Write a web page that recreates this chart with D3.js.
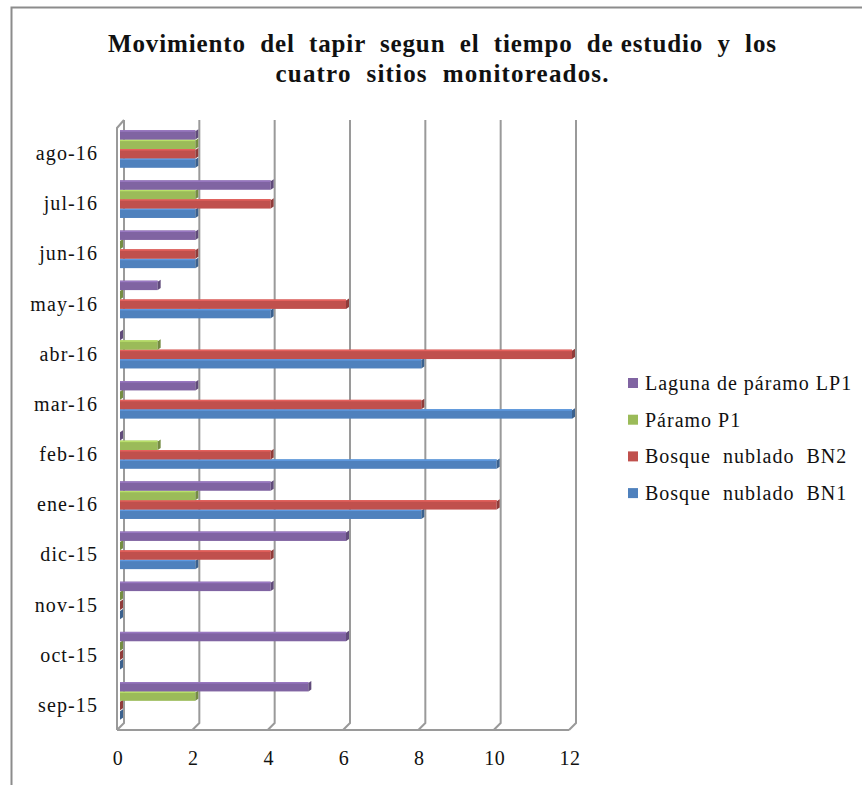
<!DOCTYPE html>
<html>
<head>
<meta charset="utf-8">
<script src="https://cdn.jsdelivr.net/npm/d3@7/dist/d3.min.js"></script>
<style>
  html, body { margin: 0; padding: 0; background: #fff; }
  svg text { white-space: pre; font-family: "Liberation Serif", "DejaVu Serif", serif; fill: #111; }
</style>
</head>
<body>
<svg id="chart" width="862" height="785"></svg>
<script>
// Months, top to bottom as shown on the category axis
const months = ["ago-16","jul-16","jun-16","may-16","abr-16","mar-16","feb-16","ene-16","dic-15","nov-15","oct-15","sep-15"];

// Series, listed in legend order (top bar of each group first)
const seriesNames = ["Laguna de páramo LP1", "Páramo P1", "Bosque  nublado  BN2", "Bosque  nublado  BN1"];
const seriesColors = ["#8064A2", "#9BBB59", "#C0504D", "#4F81BD"];

// Records per month, one array per series, in the same order as `months`
const lagunaLP1 = [2, 4, 2, 1, 0, 2, 0, 4, 6, 4, 6, 5];
const paramoP1  = [2, 2, 0, 0, 1, 0, 1, 2, 0, 0, 0, 2];
const bosqueBN2 = [2, 4, 2, 6, 12, 8, 4, 10, 4, 0, 0, 0];
const bosqueBN1 = [2, 2, 2, 4, 8, 12, 10, 8, 2, 0, 0, 0];
const seriesValues = [lagunaLP1, paramoP1, bosqueBN2, bosqueBN1];

const xTicks = [0, 2, 4, 6, 8, 10, 12];
const titleLines = ["Movimiento  del  tapir  segun  el  tiempo  de estudio  y  los", "cuatro  sitios  monitoreados."];
const titleWidths = [668, 333];

const svg = d3.select("#chart");

// outer chart frame (top and left edges fall inside the window)
svg.append("path")
  .attr("d", "M11.5,785 L11.5,7.5 L862,7.5")
  .attr("fill", "none").attr("stroke", "#8c8c8c").attr("stroke-width", 2);

// title
svg.append("g").selectAll("text").data(titleLines).join("text")
  .attr("x", 442).attr("y", (d, i) => 52 + i * 30)
  .attr("text-anchor", "middle")
  .attr("textLength", (d, i) => titleWidths[i])
  .attr("lengthAdjust", "spacing")
  .style("font-size", "25px").style("font-weight", "bold")
  .text(d => d);

// 3D geometry: back wall plane, front plane, and bars in the middle
const depth = 7;
const xBack = d3.scaleLinear().domain([0, 12]).range([124, 576]);
const xFront = v => xBack(v) - depth;
const xBar = v => xBack(v) - 4;
const backTop = 120, backBottom = 723;
const frontTop = backTop + depth + 1, frontBottom = backBottom + depth;

const y = d3.scaleBand().domain(months).range([frontTop, frontBottom]);
const barH = 9.4;
const groupOffset = 2.2;

const grid = svg.append("g").attr("fill", "none").attr("stroke", "#9a9a9a").attr("stroke-width", 2);

// back-wall vertical gridlines with floor diagonals
xTicks.forEach(t => {
  grid.append("path").attr("d",
    `M${xBack(t)},${backTop} L${xBack(t)},${backBottom} L${xFront(t)},${frontBottom}`);
});
// floor front edge
grid.append("line")
  .attr("x1", xFront(0)).attr("x2", xFront(12))
  .attr("y1", frontBottom).attr("y2", frontBottom);
// left wall front edge and top
grid.append("path").attr("d",
  `M${xFront(0)},${frontBottom} L${xFront(0)},${frontTop} L${xBack(0)},${backTop}`);

// bars
const bars = svg.append("g");
months.forEach((m, mi) => {
  // lower bars first so upper bars sit on top of them
  for (let s = seriesValues.length - 1; s >= 0; s--) {
    const v = seriesValues[s][mi];
    const col = d3.color(seriesColors[s]);
    const y0 = y(m) + groupOffset + s * barH;
    const x0 = xBar(0), x1 = xBar(v);
    const dd = 3;
    const g = bars.append("g");
    if (v > 0) {
      g.append("rect")
        .attr("x", x0).attr("y", y0).attr("width", x1 - x0).attr("height", barH)
        .attr("fill", col.formatHex());
      // top bevel
      g.append("rect")
        .attr("x", x0).attr("y", y0).attr("width", x1 - x0).attr("height", 1.5)
        .attr("fill", col.brighter(0.5).formatHex());
    }
    // right side face (visible even for a zero bar)
    g.append("path")
      .attr("d", `M${x1},${y0 + 1} L${x1 + dd},${y0 - 1} L${x1 + dd},${y0 + barH - 2} L${x1},${y0 + barH}Z`)
      .attr("fill", col.darker(0.8).formatHex());
  }
});

// category labels
svg.append("g").selectAll("text").data(months).join("text")
  .attr("x", 98).attr("y", d => y(d) + y.bandwidth() / 2 + 7)
  .attr("text-anchor", "end")
  .style("font-size", "20px").style("letter-spacing", "1.1px")
  .text(d => d);

// value axis labels
svg.append("g").selectAll("text").data(xTicks).join("text")
  .attr("x", d => xFront(d) + 1).attr("y", 765)
  .attr("text-anchor", "middle")
  .style("font-size", "20px").style("letter-spacing", "0.5px")
  .text(d => d);

// legend
const legend = svg.append("g").attr("transform", "translate(628,390)");
seriesNames.forEach((n, i) => {
  const row = legend.append("g").attr("transform", `translate(0,${i * 36.7})`);
  row.append("rect").attr("x", 0).attr("y", -12).attr("width", 10).attr("height", 10)
    .attr("fill", seriesColors[i]);
  row.append("text").attr("x", 17).attr("y", 0)
    .style("font-size", "20px").style("letter-spacing", "1px").text(n);
});
</script>
</body>
</html>
